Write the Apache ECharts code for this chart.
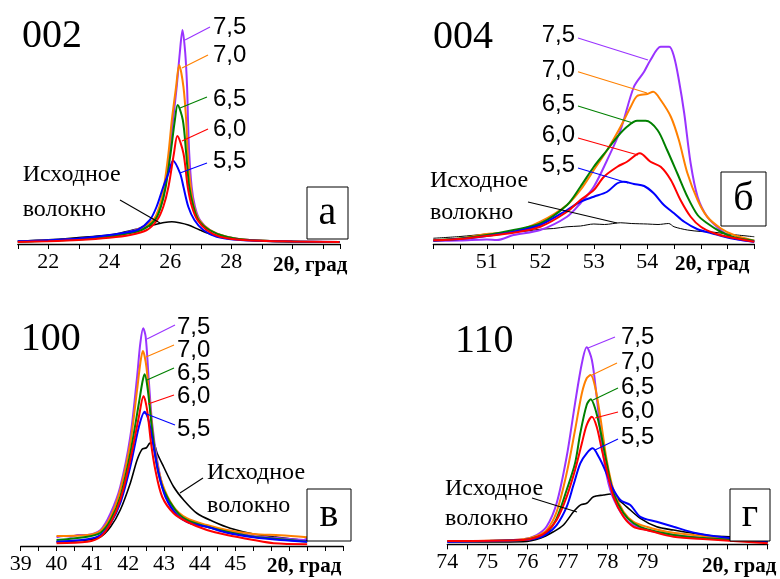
<!DOCTYPE html>
<html>
<head>
<meta charset="utf-8">
<script src="https://cdn.jsdelivr.net/npm/echarts/dist/echarts.min.js"></script>
<style>
  html, body { margin: 0; padding: 0; background: #fff; }
  #chart { width: 780px; height: 579px; }
</style>
</head>
<body>
<div id="chart"></div>
<script>
// Series names (heat treatment level) and panel labels
const levels = ['7,5', '7,0', '6,5', '6,0', '5,5'];
const initialLabel = ['Исходное', 'волокно'];
const reflections = ['002', '004', '100', '110'];
const panelLetters = ['а', 'б', 'в', 'г'];
const axisTitle = '2θ, град';

// Tick labels for each panel
const ticksA = [22, 24, 26, 28];
const ticksB = [51, 52, 53, 54];
const ticksC = [39, 40, 41, 42, 43, 44, 45];
const ticksD = [74, 75, 76, 77, 78, 79];

// 002 reflection: [2θ, intensity]
const a0 = [[21,12],[22,17],[23,26],[24,36],[24.35,43],[25.01,63],[25.44,76],[25.8,86],[26.05,89],[26.3,85],[26.59,76],[26.97,56],[27.41,36],[27.96,23],[29,12],[30,9],[31.55,8]];
const a75 = [[21,10],[22,14],[23,20],[24,32],[24.5,44],[25.01,62],[25.46,96],[25.68,149],[25.83,229],[25.97,363],[26.09,496],[26.21,629],[26.31,763],[26.40,856],[26.49,763],[26.55,629],[26.58,496],[26.62,363],[26.70,229],[26.81,149],[26.97,96],[27.30,56],[27.85,29],[28.61,16],[30,10],[31.55,8]];
const a70 = [[21,10],[22,14],[23,20],[24,33],[24.57,43],[25.01,63],[25.44,96],[25.64,149],[25.79,229],[25.94,363],[26.05,496],[26.19,629],[26.29,716],[26.43,629],[26.52,496],[26.57,363],[26.67,229],[26.78,149],[26.95,96],[27.30,56],[27.85,29],[28.6,16],[30,10],[31.55,8]];
const a65 = [[21,9],[22,13],[23,18],[24,29],[24.5,40],[25.06,56],[25.50,96],[25.69,149],[25.85,229],[26.01,363],[26.15,496],[26.24,556],[26.41,496],[26.52,363],[26.62,229],[26.76,149],[26.92,96],[27.28,56],[27.83,29],[28.6,16],[30,10],[31.55,8]];
const a60 = [[21,8],[22,11],[23,16],[24,25],[24.68,36],[25.23,56],[25.57,96],[25.77,149],[25.94,229],[26.12,363],[26.23,432],[26.43,363],[26.57,229],[26.71,149],[26.89,96],[27.19,56],[27.63,29],[28.4,16],[30,10],[31.55,8]];
const a55 = [[21,11],[22,15],[23,22],[24,36],[24.5,45],[24.95,58],[25.33,96],[25.55,149],[25.77,229],[25.94,283],[26.09,333],[26.32,283],[26.43,229],[26.59,149],[26.79,96],[27.08,56],[27.52,29],[28.3,16],[30,10],[31.55,8]];

// 004 reflection
const b0 = [[50,23],[50.5,30],[51,40],[51.25,44],[51.5,48],[51.75,52],[52,59],[52.25,62],[52.5,69],[52.75,72],[53,80],[53.2,78],[53.5,85],[53.7,82],[54,80],[54.2,78],[54.4,82],[54.5,69],[54.75,56],[55,50],[55.25,47],[55.5,40],[56,29]];
const b75 = [[50,13],[50.5,14],[51,18],[51.19,16],[51.5,36],[52,56],[52.5,109],[52.75,163],[53,229],[53.25,336],[53.5,456],[53.75,629],[53.94,689],[54.06,736],[54.25,789],[54.41,789],[54.5,749],[54.59,656],[54.69,523],[54.81,323],[54.94,189],[55.12,109],[55.37,56],[55.62,23],[56,9]];
const b70 = [[50,13],[50.5,22],[51,40],[51.5,49],[52,89],[52.5,156],[52.75,216],[53,296],[53.25,376],[53.5,469],[53.69,549],[53.81,592],[54,600],[54.11,609],[54.25,576],[54.44,509],[54.59,416],[54.75,283],[54.94,176],[55.12,109],[55.37,63],[55.62,36],[56,13]];
const b65 = [[50,15],[50.5,22],[51,36],[51.5,56],[52,82],[52.5,156],[52.75,229],[53,309],[53.25,376],[53.44,429],[53.62,469],[53.81,493],[53.97,493],[54.19,456],[54.37,376],[54.56,283],[54.75,189],[54.94,116],[55.12,83],[55.37,49],[55.62,27],[56,13]];
const b60 = [[50,15],[50.5,20],[51,32],[51.5,45],[52,69],[52.5,129],[52.75,176],[53,216],[53.19,269],[53.44,309],[53.62,329],[53.86,363],[54.06,329],[54.25,309],[54.44,256],[54.62,176],[54.81,109],[55,69],[55.25,43],[55.5,29],[56,9]];
const b55 = [[50,13],[50.5,20],[51,32],[51.5,49],[52,76],[52.5,136],[52.75,169],[53,189],[53.25,209],[53.44,243],[53.56,249],[53.75,240],[53.94,232],[54.12,203],[54.31,156],[54.5,123],[54.69,89],[54.94,59],[55.25,40],[55.56,23],[56,9]];

// 100 reflection
const c0 = [[40,17],[40.86,24],[41.23,37],[41.51,77],[41.78,144],[42.06,251],[42.25,344],[42.39,387],[42.51,393],[42.6,411],[42.7,413],[42.81,371],[42.99,317],[43.27,237],[43.55,184],[43.92,131],[44.39,97],[44.85,71],[45.5,48],[46.06,37],[47,21]];
const c75 = [[40,35],[40.2,40],[40.39,37],[40.6,44],[40.86,44],[41.23,64],[41.51,131],[41.78,237],[42.06,437],[42.25,677],[42.34,811],[42.42,871],[42.49,837],[42.57,677],[42.67,491],[42.81,344],[42.99,224],[43.27,144],[43.64,97],[44.2,77],[44.76,61],[45.5,40],[46.25,31],[46.9,24],[47,29]];
const c70 = [[40,40],[40.86,44],[41.23,61],[41.51,117],[41.78,224],[42.06,411],[42.25,624],[42.34,731],[42.41,780],[42.51,717],[42.62,544],[42.76,371],[42.95,251],[43.27,157],[43.64,111],[44.2,84],[44.76,64],[45.5,48],[46.25,43],[47,35]];
const c65 = [[40,24],[40.86,37],[41.23,53],[41.51,104],[41.78,197],[42.06,371],[42.3,571],[42.4,657],[42.46,687],[42.55,624],[42.67,464],[42.81,317],[42.99,224],[43.32,144],[43.64,104],[44.2,77],[44.76,57],[45.5,37],[46.25,27],[47,17]];
const c60 = [[40,11],[40.86,17],[41.23,37],[41.51,91],[41.78,184],[42.06,344],[42.3,517],[42.43,600],[42.53,544],[42.64,411],[42.76,304],[42.95,197],[43.27,131],[43.64,97],[44.2,64],[44.76,44],[45.5,24],[46.06,11],[47,7]];
const c55 = [[40,17],[40.86,27],[41.23,44],[41.51,91],[41.78,171],[42.06,317],[42.3,477],[42.46,537],[42.57,504],[42.71,397],[42.85,291],[43.04,197],[43.36,124],[43.74,91],[44.2,77],[44.76,53],[45.5,35],[46.25,24],[47,17]];

// 110 reflection
const d0 = [[74,9],[75.07,9],[75.9,10],[76.32,24],[76.65,50],[76.9,77],[77.15,130],[77.32,157],[77.48,164],[77.65,190],[77.9,197],[78.07,201],[78.23,184],[78.48,150],[78.82,104],[79.23,70],[79.65,57],[80.15,44],[80.65,33],[81.15,30],[82,17]];
const d75 = [[74,10],[75.07,14],[75.9,20],[76.23,37],[76.48,71],[76.73,164],[76.98,350],[77.19,564],[77.36,724],[77.48,788],[77.61,737],[77.73,590],[77.9,350],[78.07,217],[78.32,130],[78.57,84],[78.98,57],[79.65,37],[80.48,24],[81.32,14],[82,9]];
const d70 = [[74,13],[75.07,14],[75.9,20],[76.23,33],[76.48,57],[76.73,130],[76.98,284],[77.19,457],[77.36,604],[77.48,664],[77.58,677],[77.69,630],[77.82,510],[77.98,337],[78.15,217],[78.4,130],[78.65,90],[78.98,70],[79.48,50],[80.15,37],[80.9,24],[82,10]];
const d65 = [[74,12],[75.9,17],[76.23,28],[76.48,46],[76.73,104],[76.98,217],[77.19,324],[77.32,444],[77.48,557],[77.58,580],[77.69,544],[77.82,457],[77.98,324],[78.15,204],[78.4,124],[78.65,84],[78.98,60],[79.65,37],[80.48,24],[82,10]];
const d60 = [[74,13],[75.9,17],[76.23,28],[76.48,50],[76.73,97],[76.98,190],[77.19,297],[77.36,404],[77.48,477],[77.61,510],[77.73,470],[77.86,377],[77.98,297],[78.15,190],[78.4,110],[78.65,70],[78.98,57],[79.65,30],[80.48,20],[82,4]];
const d55 = [[74,10],[75.9,17],[76.23,24],[76.48,41],[76.73,77],[76.98,150],[77.15,237],[77.32,324],[77.48,364],[77.63,384],[77.78,350],[77.94,297],[78.11,230],[78.32,177],[78.57,157],[78.82,110],[79.23,90],[79.65,70],[80.23,44],[80.9,28],[82,10]];

const colors = { '7,5': '#9933ff', '7,0': '#ff8000', '6,5': '#008000', '6,0': '#ff0000', '5,5': '#0000ff', base: '#000000' };
const SERIF = '"Liberation Serif", "Times New Roman", serif';
const SANS = '"Liberation Sans", Arial, sans-serif';

const panels = [
  { grid: { left: 17.8, top: 4, width: 322.4, height: 240 }, min: 21, max: 31.57, step: 1, ticks: ticksA,
    data: { base: a0, '7,5': a75, '7,0': a70, '6,5': a65, '5,5': a55, '6,0': a60 }, baseWidth: 1.6 },
  { grid: { left: 433.3, top: 4, width: 321, height: 240 }, min: 50, max: 56, step: 0.5, ticks: ticksB,
    data: { base: b0, '7,5': b75, '7,0': b70, '6,5': b65, '5,5': b55, '6,0': b60 }, baseWidth: 1 },
  { grid: { left: 20.7, top: 306, width: 322.3, height: 240 }, min: 39, max: 48, step: 0.5, ticks: ticksC,
    data: { base: c0, '7,5': c75, '7,0': c70, '6,5': c65, '5,5': c55, '6,0': c60 }, baseWidth: 1.6 },
  { grid: { left: 447.3, top: 304.3, width: 320.4, height: 240 }, min: 74, max: 82, step: 0.5, ticks: ticksD,
    data: { base: d0, '7,5': d75, '7,0': d70, '6,5': d65, '5,5': d55, '6,0': d60 }, baseWidth: 1.6 }
];

const grid = [], xAxis = [], yAxis = [], series = [];
panels.forEach((p, i) => {
  grid.push(Object.assign({ containLabel: false }, p.grid));
  xAxis.push({
    type: 'value', gridIndex: i, min: p.min, max: p.max, interval: p.step,
    splitLine: { show: false },
    axisLine: { show: true, onZero: false, lineStyle: { color: '#000', width: 1.3 } },
    axisTick: { show: true, inside: false, length: 5, lineStyle: { color: '#000', width: 1 } },
    axisLabel: {
      margin: 7, color: '#000', fontFamily: SERIF, fontSize: 22,
      showMinLabel: true, showMaxLabel: true, hideOverlap: false,
      formatter: v => (p.ticks.indexOf(v) >= 0 ? String(v) : '')
    }
  });
  yAxis.push({ type: 'value', gridIndex: i, min: 0, max: 960, show: false });
  ['base', '7,5', '7,0', '6,5', '5,5', '6,0'].forEach(key => {
    series.push({
      name: key === 'base' ? initialLabel.join(' ') : key,
      type: 'line', xAxisIndex: i, yAxisIndex: i,
      data: p.data[key], symbol: 'none',
      smooth: 0.3,
      lineStyle: { color: colors[key], width: key === 'base' ? p.baseWidth : 2 },
      emphasis: { disabled: true }
    });
  });
});

// Annotation layout: reflection title, level labels with leader lines, "initial fibre" label, panel letter box
const layout = [
  { title: [22, 36], lvlX: 213, lvlAlign: 'left', lvlY: [27, 55, 99, 129, 161],
    leaders: [[210,27,185,40],[208,55,182,68],[207,97,180,108],[208,129,182,141],[207,163,180,173]],
    init: [22.7, 174.7, 209.7], initLeader: [120,200,160,223],
    box: [307, 187, 41, 52], letterY: 213, axisName: [273, 266] },
  { title: [433, 37], lvlX: 575, lvlAlign: 'right', lvlY: [35.5, 70, 104, 135.5, 165.5],
    leaders: [[578,38,648,60],[578,71.7,647,93],[578,106,633,123],[578,138,638,155],[578,168,628,183]],
    init: [430, 180.7, 212.7], initLeader: [528,202,617,223],
    box: [721, 172, 45, 54], letterY: 199, axisName: [675, 265] },
  { title: [20.7, 339], lvlX: 177, lvlAlign: 'left', lvlY: [327.5, 350, 373, 396, 429],
    leaders: [[175,325,147,339],[174,345,146,357],[174,368,147,380],[174,395,148,404],[175,425,144,413]],
    init: [207, 472.7, 505.7], initLeader: [203,478,180,493],
    box: [307, 489, 44, 52], letterY: 515, axisName: [267, 567] },
  { title: [455, 341], lvlX: 621, lvlAlign: 'left', lvlY: [337.5, 362, 387.5, 411, 437.5],
    leaders: [[615,337,588,348],[617,363,592,375],[618,388,593,400],[618,412,595,418],[618,439,595,450]],
    init: [445, 488.7, 518.7], initLeader: [532,498,577,512],
    box: [730, 489, 40, 52], letterY: 515, axisName: [702, 567] }
];

const graphic = [];
function txt(text, x, y, size, family, align, weight) {
  graphic.push({ type: 'text', x: x, y: y, z: 100, silent: true,
    style: { text: text, fontSize: size, fontFamily: family, fontWeight: weight || 'normal',
             fill: '#000', align: align || 'left', verticalAlign: 'middle' } });
}
function seg(c, color) {
  graphic.push({ type: 'line', z: 100, silent: true,
    shape: { x1: c[0], y1: c[1], x2: c[2], y2: c[3] }, style: { stroke: color, lineWidth: 1.1 } });
}
layout.forEach((L, i) => {
  txt(reflections[i], L.title[0], L.title[1], 40, SERIF);
  levels.forEach((lv, k) => {
    txt(lv, L.lvlX, L.lvlY[k], 24, SANS, L.lvlAlign);
    seg(L.leaders[k], colors[lv]);
  });
  txt(initialLabel[0], L.init[0], L.init[1], 24, SERIF);
  txt(initialLabel[1], L.init[0], L.init[2], 24, SERIF);
  seg(L.initLeader, '#000');
  graphic.push({ type: 'rect', z: 100, silent: true,
    shape: { x: L.box[0], y: L.box[1], width: L.box[2], height: L.box[3] },
    style: { fill: '#fff', stroke: '#000', lineWidth: 1 } });
  txt(panelLetters[i], L.box[0] + L.box[2] / 2, L.letterY, 40, SERIF, 'center');
  txt(axisTitle, L.axisName[0], L.axisName[1], 21, SERIF, 'left', 'bold');
});

const chart = echarts.init(document.getElementById('chart'), null, { renderer: 'canvas' });
chart.setOption({
  animation: false,
  backgroundColor: '#fff',
  grid: grid, xAxis: xAxis, yAxis: yAxis, series: series, graphic: graphic
});
</script>
</body>
</html>
